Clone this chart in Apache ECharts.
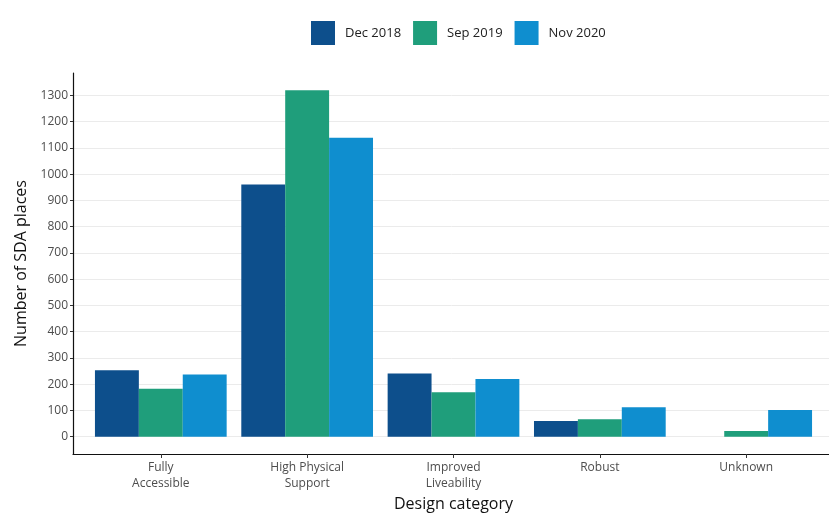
<!DOCTYPE html>
<html>
<head>
<meta charset="utf-8">
<script src="https://cdn.jsdelivr.net/npm/echarts@6/dist/echarts.min.js"></script>
<style>
html,body{margin:0;padding:0;background:#fff;}
#chart{width:829px;height:514px;}
</style>
</head>
<body>
<div id="chart"></div>
<script>
const categories = ['Fully\nAccessible', 'High Physical\nSupport', 'Improved\nLiveability', 'Robust', 'Unknown'];
const seriesNames = ['Dec 2018', 'Sep 2019', 'Nov 2020'];
const dec2018 = [253, 960, 241, 60, 0];
const sep2019 = [183, 1319, 169, 66, 22];
const nov2020 = [237, 1138, 220, 112, 102];
const yTicks = [0,100,200,300,400,500,600,700,800,900,1000,1100,1200,1300];
const colors = ['#0d4f8c', '#1f9e7b', '#0f8ecf'];

const allSeries = [dec2018, sep2019, nov2020];
const dataMax = Math.max(...allSeries.flat());
const pad = dataMax * 0.05;
const catPos = categories.map((c, i) => i + 1);

const font = '"Open Sans", "Noto Sans", sans-serif';
const chart = echarts.init(document.getElementById('chart'), null, {renderer: 'canvas'});
chart.setOption({
  animation: false,
  backgroundColor: '#ffffff',
  textStyle: {fontFamily: font},
  legend: {
    top: 21, left: 311, padding: 0,
    itemWidth: 24, itemHeight: 24, itemGap: 12,
    icon: 'rect',
    textStyle: {fontSize: 13, color: '#222', fontFamily: font, padding: [0, 0, 0, 5]},
    data: seriesNames
  },
  grid: {left: 73, right: -5, top: 73, bottom: 60, containLabel: false, outerBoundsMode: 'none'},
  xAxis: {
    type: 'value', min: 0.4, max: categories.length + 0.6,
    name: 'Design category', nameLocation: 'middle', nameGap: 42,
    nameTextStyle: {fontSize: 16, color: '#111', fontFamily: font},
    axisLine: {onZero: false, lineStyle: {color: '#111', width: 1.2}},
    axisTick: {show: true, length: 4, customValues: catPos, lineStyle: {color: '#333'}},
    axisLabel: {customValues: catPos, formatter: v => categories[Math.round(v) - 1] || '',
      fontSize: 12, color: '#4d4d4d', margin: 6, lineHeight: 16, fontFamily: font},
    splitLine: {show: false}
  },
  yAxis: {
    type: 'value', min: -pad, max: dataMax + pad,
    name: 'Number of SDA places', nameLocation: 'middle', nameGap: 44,
    nameTextStyle: {fontSize: 16, color: '#111', fontFamily: font},
    axisLine: {show: true, onZero: false, lineStyle: {color: '#111', width: 1.2}},
    axisTick: {show: true, length: 3, customValues: yTicks, lineStyle: {color: '#333'}},
    axisLabel: {customValues: yTicks, formatter: v => String(v), fontSize: 12, color: '#4d4d4d', margin: 5, fontFamily: font},
    splitLine: {show: true, lineStyle: {color: '#ebebeb', width: 1}}
  },
  series: allSeries.map((vals, si) => ({
    name: seriesNames[si],
    type: 'bar',
    barWidth: '30%',
    barGap: '0%',
    itemStyle: {color: colors[si]},
    data: vals.map((v, i) => [catPos[i], v])
  }))
});
</script>
</body>
</html>
